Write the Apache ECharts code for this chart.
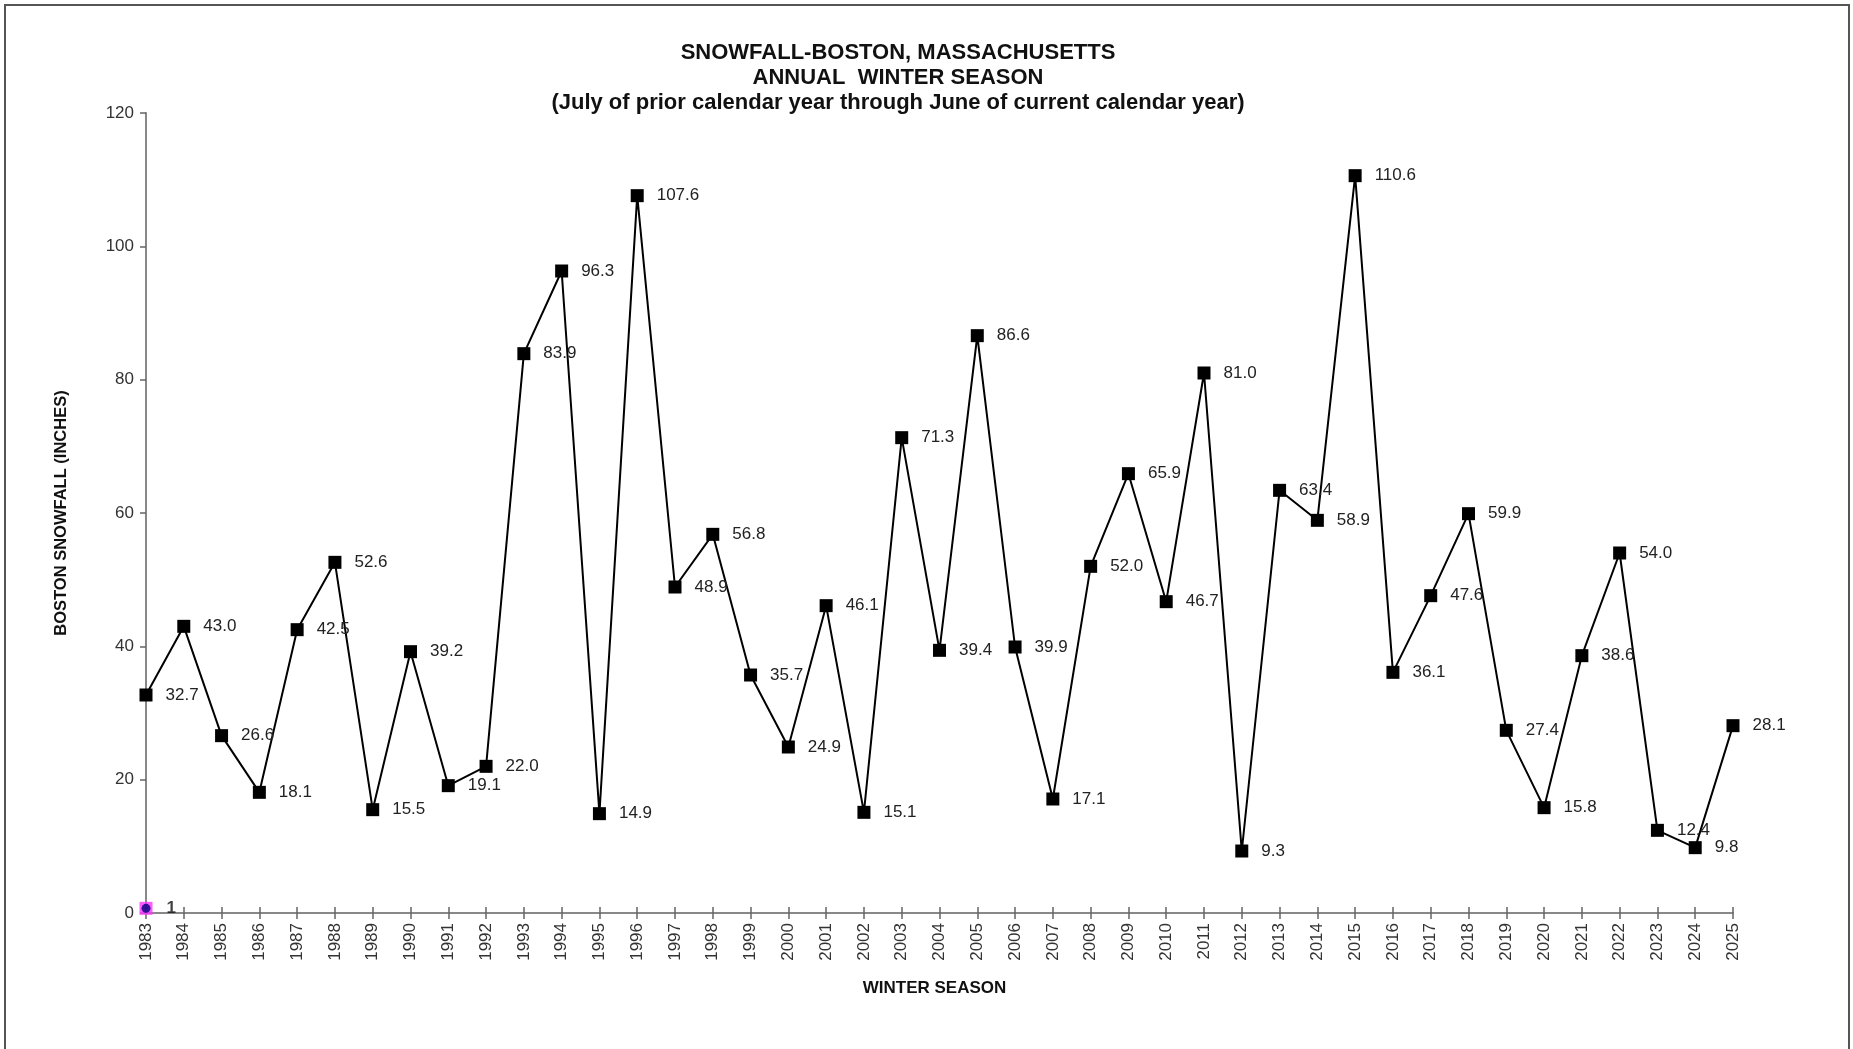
<!DOCTYPE html>
<html>
<head>
<meta charset="utf-8">
<script src="https://cdn.jsdelivr.net/npm/echarts@6/dist/echarts.min.js"></script>
<style>
html,body{margin:0;padding:0;background:#fff;}
#frame{position:absolute;left:4px;top:4px;width:1846px;height:1045px;border-left:2px solid #555;border-top:2px solid #555;border-right:2px solid #555;box-sizing:border-box;}
#chart{position:absolute;left:0;top:0;width:1853px;height:1049px;}
</style>
</head>
<body>
<div id="frame"></div>
<div id="chart"></div>
<script>
const seasons = ['1983','1984','1985','1986','1987','1988','1989','1990','1991','1992','1993','1994','1995','1996','1997','1998','1999','2000','2001','2002','2003','2004','2005','2006','2007','2008','2009','2010','2011','2012','2013','2014','2015','2016','2017','2018','2019','2020','2021','2022','2023','2024','2025'];
const snowfall = [32.7,43.0,26.6,18.1,42.5,52.6,15.5,39.2,19.1,22.0,83.9,96.3,14.9,107.6,48.9,56.8,35.7,24.9,46.1,15.1,71.3,39.4,86.6,39.9,17.1,52.0,65.9,46.7,81.0,9.3,63.4,58.9,110.6,36.1,47.6,59.9,27.4,15.8,38.6,54.0,12.4,9.8,28.1];
const extraPoint = [['1983', 0.7]];
const yTicks = {min: 0, max: 120, interval: 20};
const titleLines = ['SNOWFALL-BOSTON, MASSACHUSETTS', 'ANNUAL  WINTER SEASON', '(July of prior calendar year through June of current calendar year)'];

const font = 'Liberation Sans, Arial, sans-serif';
const chart = echarts.init(document.getElementById('chart'));
chart.setOption({
  animation: false,
  backgroundColor: 'transparent',
  title: {
    text: titleLines.join('\n'),
    left: 898, top: 40, textAlign: 'center', padding: 0,
    textStyle: {fontFamily: font, fontSize: 22, fontWeight: 'bold', color: '#111', lineHeight: 25}
  },
  grid: {left: 146, right: 120, top: 113, bottom: 136, containLabel: false},
  xAxis: [{
    type: 'category', data: seasons, boundaryGap: false,
    name: 'WINTER SEASON', nameLocation: 'middle', nameGap: 67,
    nameTextStyle: {fontFamily: font, fontSize: 17, fontWeight: 'bold', color: '#111', padding: [0, 10, 0, 0]},
    axisLine: {lineStyle: {color: '#888', width: 2}},
    axisTick: {show: true, length: 6, alignWithLabel: true, lineStyle: {color: '#666', width: 1.5}},
    axisLabel: {rotate: 90, fontFamily: font, fontSize: 17, color: '#333', margin: 10, interval: 0},
    splitLine: {show: false}
  }, {
    type: 'category', data: seasons, boundaryGap: false, position: 'bottom',
    axisLine: {show: false},
    axisTick: {show: true, inside: true, length: 6, lineStyle: {color: '#666', width: 1.5}},
    axisLabel: {show: false}, splitLine: {show: false}
  }],
  yAxis: {
    type: 'value', min: yTicks.min, max: yTicks.max, interval: yTicks.interval,
    name: 'BOSTON SNOWFALL (INCHES)', nameLocation: 'middle', nameGap: 76, nameRotate: 90,
    nameTextStyle: {fontFamily: font, fontSize: 16.5, fontWeight: 'bold', color: '#111'},
    axisLine: {show: true, lineStyle: {color: '#888', width: 2}},
    axisTick: {show: true, length: 6, lineStyle: {color: '#666', width: 1.5}},
    axisLabel: {fontFamily: font, fontSize: 17, color: '#333', margin: 12},
    splitLine: {show: false}
  },
  series: [{
    type: 'line', data: snowfall, xAxisIndex: 0,
    symbol: 'rect', symbolSize: 13, showAllSymbol: true,
    lineStyle: {color: '#000', width: 2},
    itemStyle: {color: '#000'},
    label: {show: true, position: 'right', distance: 13, fontFamily: font, fontSize: 17, color: '#222',
      formatter: p => p.value.toFixed(1)},
    z: 3
  }, {
    type: 'scatter', data: extraPoint, xAxisIndex: 0,
    symbol: 'rect', symbolSize: 13,
    itemStyle: {color: '#ff33ff'},
    label: {show: true, position: 'right', distance: 14, fontFamily: font, fontSize: 17, fontWeight: 'bold', color: '#111',
      formatter: p => String(Math.round(p.value[1]))},
    z: 4
  }, {
    type: 'scatter', data: extraPoint, xAxisIndex: 0,
    symbol: 'circle', symbolSize: 9,
    itemStyle: {color: '#000080'},
    z: 5
  }]
});
</script>
</body>
</html>
